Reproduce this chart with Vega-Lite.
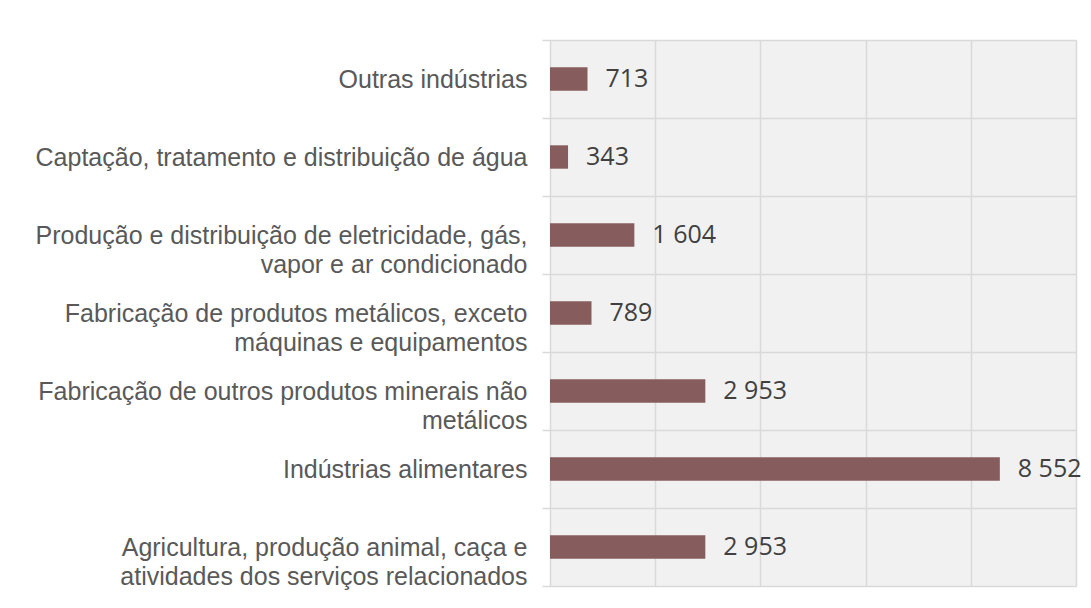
{
  "$schema": "https://vega.github.io/schema/vega-lite/v6.json",
  "autosize": "none",
  "width": 526,
  "height": 546,
  "padding": {"left": 550, "top": 40, "right": 15, "bottom": 22},
  "background": "white",
  "config": {
    "locale": {"number": {"decimal": ",", "thousands": " ", "grouping": [3], "currency": ["", ""]}},
    "view": {"stroke": null, "fill": "#f1f1f1"},
    "font": "Open Sans"
  },
  "data": {
    "values": [
      {"cat": "Outras indústrias", "v": 713},
      {"cat": "Captação, tratamento e distribuição de água", "v": 343},
      {"cat": "Produção e distribuição de eletricidade, gás,|vapor e ar condicionado", "v": 1604},
      {"cat": "Fabricação de produtos metálicos, exceto|máquinas e equipamentos", "v": 789},
      {"cat": "Fabricação de outros produtos minerais não|metálicos", "v": 2953},
      {"cat": "Indústrias alimentares", "v": 8552},
      {"cat": "Agricultura, produção animal, caça e|atividades dos serviços relacionados", "v": 2953}
    ]
  },
  "encoding": {
    "y": {
      "field": "cat",
      "type": "nominal",
      "sort": null,
      "scale": {"paddingInner": 0, "paddingOuter": 0},
      "axis": {
        "title": null,
        "domain": false,
        "grid": true,
        "gridColor": "#d9d9d9",
        "gridWidth": 1.5,
        "tickColor": "#d9d9d9",
        "tickWidth": 1.5,
        "tickSize": 8,
        "tickBand": "extent",
        "labelPadding": 15,
        "labelFont": "Liberation Sans",
        "labelFontSize": 25,
        "labelColor": "#595959",
        "labelLimit": 560,
        "labelLineHeight": 29,
        "labelExpr": "split(datum.label, '|')"
      }
    },
    "x": {
      "field": "v",
      "type": "quantitative",
      "scale": {"domain": [0, 10000], "nice": false},
      "axis": {
        "title": null,
        "values": [0, 2000, 4000, 6000, 8000, 10000],
        "labels": false,
        "ticks": false,
        "domain": false,
        "grid": true,
        "gridColor": "#d9d9d9",
        "gridWidth": 1.5
      }
    }
  },
  "layer": [
    {"mark": {"type": "bar", "color": "#875C5C", "height": {"band": 0.3}}},
    {
      "mark": {"type": "text", "align": "left", "baseline": "middle", "dx": 18, "fontSize": 25, "color": "#404040"},
      "encoding": {"text": {"field": "v", "type": "quantitative", "format": ",d"}}
    }
  ]
}
